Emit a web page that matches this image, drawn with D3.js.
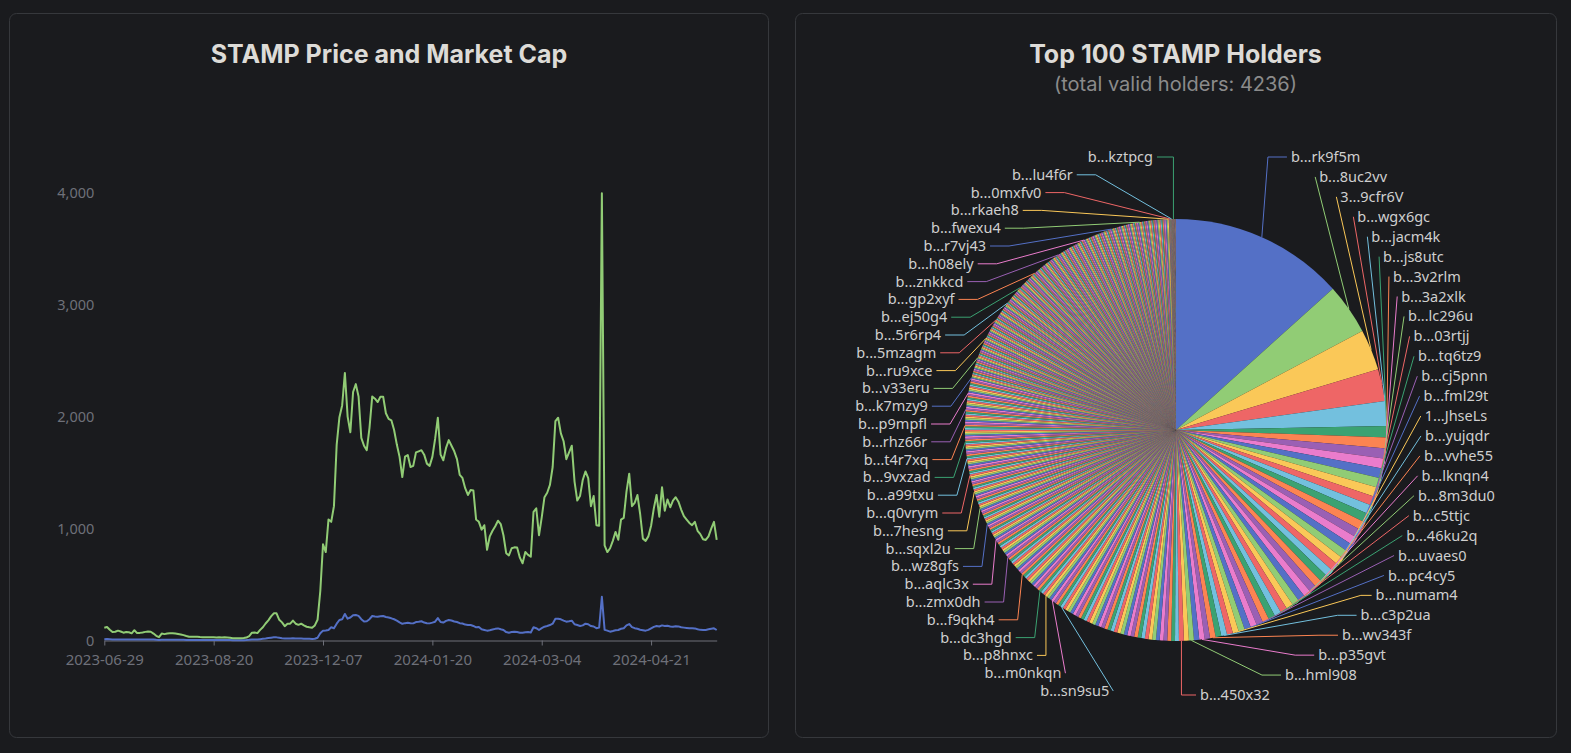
<!DOCTYPE html>
<html><head><meta charset="utf-8">
<script src="https://cdn.jsdelivr.net/npm/d3@7"></script>
<style>
html,body{margin:0;padding:0;background:#1a1b1e;overflow:hidden;}
svg{display:block;}
</style></head>
<body>
<svg id="chart" width="1571" height="753"></svg>
<script>
// ---------------- DATA ----------------
const lineTitle = "STAMP Price and Market Cap";
const pieTitle = "Top 100 STAMP Holders";
const pieSubtitle = "(total valid holders: 4236)";

// x-axis tick labels (category axis, one label every 40 points)
const dateTickLabels = ["2023-06-29","2023-08-20","2023-12-07","2024-01-20","2024-03-04","2024-04-21"];
const dateTickEvery = 40;
const yTickValues = [0,1000,2000,3000,4000];

// series 1 (blue)
const price = [12,13,11,9,10,10,10,9,9,9,
8,10,8,8,8,9,9,9,8,6,
5,7,7,7,7,7,7,7,6,6,
5,5,5,5,5,5,5,4,4,4,
4,4,4,4,4,4,4,3,3,3,
3,3,4,6,9,9,9,12,15,18,
22,25,28,28,24,20,17,18,18,20,
18,17,18,16,15,15,14,16,25,64,
88,90,94,118,109,150,183,189,237,195,
205,225,228,220,190,170,172,190,219,215,
213,216,219,210,205,198,190,178,162,149,
155,159,155,153,165,168,172,160,155,153,
160,168,200,165,160,175,183,178,170,165,
155,152,142,138,138,130,118,121,100,94,
88,92,98,104,108,100,94,75,70,75,
79,75,70,70,74,76,72,118,110,94,
110,123,130,138,150,195,195,189,178,168,
172,177,145,138,130,135,150,145,129,125,
110,115,391,95,88,79,85,92,94,105,
110,135,147,120,110,105,96,92,88,95,
109,122,129,125,135,130,132,125,123,128,
126,118,115,112,109,109,108,100,95,94,
94,100,105,109,94];

// series 2 (green)
const marketCap = [114,120,96,75,78,88,80,70,76,74,
64,92,66,68,72,77,80,78,62,42,
30,62,57,62,64,64,62,58,54,48,
40,34,33,34,33,31,30,28,28,29,
28,27,28,27,28,27,24,20,19,19,
20,22,26,40,70,72,66,95,118,152,
180,215,243,243,185,162,128,150,150,178,
150,140,150,135,123,118,114,135,185,440,
860,790,1080,1060,1200,1750,1995,2100,2390,2000,
1860,2220,2290,2180,1810,1740,1700,1900,2180,2160,
2130,2178,2178,2030,1980,1967,1880,1750,1640,1460,
1642,1657,1550,1560,1680,1690,1700,1660,1580,1560,
1640,1800,1990,1660,1610,1720,1790,1740,1690,1620,
1480,1452,1360,1300,1345,1340,1080,1060,990,1030,
810,930,980,1020,1070,1040,940,780,760,824,
832,830,740,690,790,765,749,1150,1180,940,
1100,1280,1320,1390,1550,1960,1990,1850,1780,1620,
1680,1740,1420,1250,1290,1434,1510,1450,1200,1290,
1030,1025,3995,850,790,824,890,970,900,1080,
1095,1330,1490,1200,1230,1300,1130,910,890,930,
1025,1180,1300,1106,1370,1160,1260,1190,1250,1280,
1240,1170,1110,1080,1050,1030,1060,980,950,905,
898,930,1000,1060,898];

// holder balances (relative units), in pie order
const holderBalances = [
4800,1400,1130,880,680,315,295,285,275,270,265,260,255,250,245,240,235,230,225,225,
220,215,215,210,205,205,200,200,195,195,190,190,185,185,180,175,175,170,165,165,
160,155,155,150,145,145,140,135,135,
107,106,105,104,103,103,102,101,100,99,98,98,97,96,95,94,93,93,92,91,
90,89,89,88,87,86,85,85,84,83,82,81,81,80,79,78,77,77,76,75,
74,73,73,72,71,70,69,69,68,67,67,66,65,65,64,64,63,63,62,62,
61,61,60,60,60,59,59,58,58,58,57,57,57,56,56,56,
50,50,49,49,49,49,49,49,48,48,48,48,48,48,48,48,48,48,48,48,
47,47,47,47,47,47,47,47,47,47,47,47,47,47,47,46,46,46,46,46,
46,46,46,46,46,46,46,46,46,46,46,46,46,46,46,45,45,45,45,45,
45,45,45,45,45,45,45,45,45,45,45,45,45,45,45,44,44,44,44,44,
44,44,44,44,44,44,44,44,44,44,44,44,44,44,44,43,43,43,43,43,
30,30,30,30,30,30,30,30,30,30,30,30,30,30,30,30,30,30,30,30,
30,30,30,30,30,30,30,30,30,30,30,30,30,30,30,30,30,30,30,30,
30,30,30,30,30,30,30,30,30,30,30,30,30,30,30,30,30,30,
29,29,29,29,29,29,29,29,29,29,29,29,29,29,29,29,29,29,29,29,
29,29,29,29,29,29,29,29,29,29,29,29,29,29,29,29,29,29,29,29,
29,29,29,29,29,29,29,29,29,29,29,29,29,29,29,29,29,29,29,29,
29,29,29,29,29,29,29,29,29,29,29,29,29,29,29,29,29,29,29,29,
29,29,29,29,29,29,29,29,29,29,29,29,29,29,29,29,29,29,29,29,
29,29,29,29,29,29,29,29,29,29,29,29,29,29,29,29,29,29,29,29,
29,29,29,29,29,29,29,29,
28,28,28,28,28,28,28,28,28,28,28,28,28,28,28,28,28,28,28,28,
28,28,28,28,28,28,28,28,28,28,28,28,28,28,28,28,28,28,28,28,
28,28,28,28,28,28,28,28,28,28,28,28,28,28,28,28,28,28,28,28,
28,28,28,28,28,28,28,28,28,
6,6,5,5,5,5,5,4,4,4,4,4,4,3,3,3,3,3,3,3,
3,3,3,3,3,3,3,3,2,2,2,2,2,2,2,2,2,2,2,
2,2,2,2,2,2,2,2,2,2,2,2,
1,1,1,1,1,1,1,1,1,1,1,1,1,1,1,1,1,1,1,1,1,1,1,1,1,
1,1,1,1,1,1,1,1,1,1,1,1,1,1,1,1,1,1,1,1
];

// labelled holders (names as displayed) and their position in holderBalances
const holderLabelNames = ["b...rk9f5m","b...8uc2vv","3...9cfr6V","b...wgx6gc","b...jacm4k","b...js8utc","b...3v2rlm",
"b...3a2xlk","b...lc296u","b...03rtjj","b...tq6tz9","b...cj5pnn","b...fml29t","1...JhseLs","b...yujqdr",
"b...vvhe55","b...lknqn4","b...8m3du0","b...c5ttjc","b...46ku2q","b...uvaes0","b...pc4cy5","b...numam4",
"b...c3p2ua","b...wv343f","b...p35gvt","b...hml908","b...450x32",
"b...sn9su5","b...m0nkqn","b...p8hnxc","b...dc3hgd","b...f9qkh4","b...zmx0dh","b...aqlc3x","b...wz8gfs",
"b...sqxl2u","b...7hesng","b...q0vrym","b...a99txu","b...9vxzad","b...t4r7xq","b...rhz66r","b...p9mpfl",
"b...k7mzy9","b...v33eru","b...ru9xce","b...5mzagm","b...5r6rp4","b...ej50g4","b...gp2xyf","b...znkkcd",
"b...h08ely","b...r7vj43","b...fwexu4","b...rkaeh8","b...0mxfv0","b...lu4f6r","b...kztpcg"];
const holderLabelIndex = [0,1,2,3,4,5,6,8,10,12,14,16,18,20,22,24,26,28,30,32,34,36,38,40,42,44,46,48,
85,89,92,95,105,115,125,135,145,155,165,175,185,195,205,215,225,244,263,282,301,320,339,367,395,423,451,479,489,499,518];

const palette = ["#5470c6","#91cc75","#fac858","#ee6666","#73c0de","#3ba272","#fc8452","#9a60b4","#ea7ccc"];

// ---------------- DRAW ----------------
const svg = d3.select("#chart");
const bg = "#1a1b1e";
svg.append("rect").attr("width",1571).attr("height",753).attr("fill",bg);

const panels = [{x:9.5,y:13.5,w:759,h:724},{x:795.5,y:13.5,w:761,h:724}];
svg.selectAll("rect.panel").data(panels).join("rect").attr("class","panel")
  .attr("x",d=>d.x).attr("y",d=>d.y).attr("width",d=>d.w).attr("height",d=>d.h)
  .attr("rx",7).attr("fill",bg).attr("stroke","#36383c").attr("stroke-width",1);

const titleFont = "Inter, Roboto, sans-serif";
const textFont = "'Noto Sans', 'Open Sans', sans-serif";

svg.append("text").attr("x",389).attr("y",63).attr("text-anchor","middle")
  .attr("font-family",titleFont).attr("font-weight",700).attr("font-size",25)
  .attr("fill","#dddbd7").text(lineTitle);

// ---- line chart ----
const n = marketCap.length;
const x = d3.scaleLinear().domain([0, n-1]).range([104.3, 716.7]);
const y = d3.scaleLinear().domain([0, 4000]).range([640.5, 192.7]);

const gy = svg.append("g").attr("transform","translate(104.3,0)")
  .call(d3.axisLeft(y).tickValues(yTickValues).tickFormat(d3.format(",")).tickSize(0).tickPadding(10));
gy.select(".domain").remove();
gy.selectAll("text").attr("font-family",textFont).attr("font-size",14.5).attr("fill","#6e7079");

const tickIdx = dateTickLabels.map((d,i)=>i*dateTickEvery);
const gx = svg.append("g").attr("transform","translate(0,640.5)")
  .call(d3.axisBottom(x).tickValues(tickIdx).tickFormat((d,i)=>dateTickLabels[i]).tickSizeInner(5).tickSizeOuter(0).tickPadding(9));
gx.select(".domain").attr("stroke","#6e7079");
gx.selectAll("line").attr("stroke","#6e7079");
gx.selectAll("text").attr("font-family",textFont).attr("font-size",15).attr("fill","#6e7079");

const line = d3.line().x((d,i)=>x(i)).y(d=>y(d));
svg.append("path").datum(price).attr("d",line).attr("fill","none")
  .attr("stroke",palette[0]).attr("stroke-width",2).attr("stroke-linejoin","round");
svg.append("path").datum(marketCap).attr("d",line).attr("fill","none")
  .attr("stroke",palette[1]).attr("stroke-width",2).attr("stroke-linejoin","round");

// ---- pie chart ----
svg.append("text").attr("x",1175.5).attr("y",63).attr("text-anchor","middle")
  .attr("font-family",titleFont).attr("font-weight",700).attr("font-size",25)
  .attr("fill","#dddbd7").text(pieTitle);
svg.append("text").attr("x",1175.5).attr("y",91).attr("text-anchor","middle")
  .attr("font-family",titleFont).attr("font-size",20)
  .attr("fill","#8b8b8b").text(pieSubtitle);

const pcx = 1176, pcy = 430, pr = 211;
const arcs = d3.pie().sort(null).value(d=>d)(holderBalances);
const arcGen = d3.arc().innerRadius(0).outerRadius(pr);
const gp = svg.append("g").attr("transform",`translate(${pcx},${pcy})`);
gp.selectAll("path").data(arcs).join("path").attr("d",arcGen)
  .attr("fill",(d,i)=>palette[i%palette.length]);

// label layout (outer labels, spread vertically, aligned on an ellipse)
const len1 = 15, len2 = 19, gap = 4, rA = pr + len1;
const bounds = {right:[157,695], left:[157,691]};
const boundDy = 266;
const labels = holderLabelIndex.map((k,j)=>{
  const a = arcs[k], m = (a.startAngle + a.endAngle)/2;
  return {k, name: holderLabelNames[j], m, sx: Math.sin(m), sy: -Math.cos(m), color: palette[k%palette.length]};
});
const mids = arcs.map(a=>(a.startAngle+a.endAngle)/2);

function layoutSide(list, dir, yTop, yBot){
  list.sort((a,b)=> (a.sy) - (b.sy));
  const cnt = list.length;
  list.forEach((d,i)=>{ d.y = yTop + (yBot-yTop)*i/(cnt-1); });
  ["top","bottom"].forEach(semi=>{
    const sub = list.filter(d => semi==="top" ? d.y < pcy : d.y >= pcy);
    if (!sub.length) return;
    const maxDy = Math.max(d3.max(sub, d=>Math.abs(d.y-pcy)), semi==="bottom" && dir<0 ? boundDy : 0);
    let minDx = rA;
    mids.forEach(m=>{
      const sx = Math.sin(m), sy = -Math.cos(m);
      if ((dir>0 ? sx>=0 : sx<0) && (semi==="top" ? sy<0 : sy>=0)) minDx = Math.min(minDx, Math.abs(sx)*rA);
    });
    const rB = minDx < rA ? maxDy/Math.sqrt(1 - minDx*minDx/(rA*rA)) : rA;
    sub.forEach(d=>{
      const dy = Math.abs(d.y-pcy);
      const dx = rA*Math.sqrt(Math.max(0, 1 - dy*dy/(rB*rB)));
      const p0 = [pcx + pr*d.sx, pcy + pr*d.sy];
      const p1 = [pcx + dir*dx, d.y];
      const p2 = [p1[0] + dir*len2, d.y];
      d.pts = [p0,p1,p2];
      d.dir = dir;
      d.tx = p2[0] + dir*gap;
    });
  });
}
function limitTurnAngle(pts, minDeg){
  const minA = minDeg*Math.PI/180;
  const [p0,p1,p2] = pts;
  let a=[p0[0]-p1[0],p0[1]-p1[1]], b=[p2[0]-p1[0],p2[1]-p1[1]];
  const la=Math.hypot(a[0],a[1]), lb=Math.hypot(b[0],b[1]);
  if (la<1e-3||lb<1e-3) return;
  a=[a[0]/la,a[1]/la]; b=[b[0]/lb,b[1]/lb];
  const c=a[0]*b[0]+a[1]*b[1];
  if (Math.cos(minA) < c){
    const t0=(p0[0]-p1[0])*b[0]+(p0[1]-p1[1])*b[1];
    let proj=[p1[0]+b[0]*t0, p1[1]+b[1]*t0];
    const dist=Math.hypot(p0[0]-proj[0],p0[1]-proj[1]);
    const s=dist/Math.tan(Math.PI-minA);
    proj=[proj[0]+b[0]*s, proj[1]+b[1]*s];
    const t = p2[0]!==p1[0] ? (proj[0]-p1[0])/(p2[0]-p1[0]) : (proj[1]-p1[1])/(p2[1]-p1[1]);
    if (isNaN(t)) return;
    if (t<0) proj=[p1[0],p1[1]]; else if (t>1) proj=[p2[0],p2[1]];
    pts[1]=proj;
  }
}
function limitSurfaceAngle(pts, normal, maxDeg){
  const maxA = maxDeg*Math.PI/180;
  const [p0,p1,p2] = pts;
  let d1=[p1[0]-p0[0],p1[1]-p0[1]], d2=[p2[0]-p1[0],p2[1]-p1[1]];
  const l1=Math.hypot(d1[0],d1[1]), l2=Math.hypot(d2[0],d2[1]);
  if (l1<1e-3||l2<1e-3) return;
  d1=[d1[0]/l1,d1[1]/l1]; d2=[d2[0]/l2,d2[1]/l2];
  const c=d1[0]*normal[0]+d1[1]*normal[1];
  if (c < Math.cos(maxA)){
    const t0=(p0[0]-p1[0])*d2[0]+(p0[1]-p1[1])*d2[1];
    let proj=[p1[0]+d2[0]*t0, p1[1]+d2[1]*t0];
    const dist=Math.hypot(p0[0]-proj[0],p0[1]-proj[1]);
    const angle2=Math.acos(Math.max(-1,Math.min(1,d2[0]*normal[0]+d2[1]*normal[1])));
    const newAngle=Math.PI/2+angle2-maxA;
    if (newAngle>=Math.PI/2) proj=[p2[0],p2[1]];
    else {
      const s=dist/Math.tan(Math.PI/2-newAngle);
      proj=[proj[0]+d2[0]*s, proj[1]+d2[1]*s];
      const t = p2[0]!==p1[0] ? (proj[0]-p1[0])/(p2[0]-p1[0]) : (proj[1]-p1[1])/(p2[1]-p1[1]);
      if (isNaN(t)) return;
      if (t<0) proj=[p1[0],p1[1]]; else if (t>1) proj=[p2[0],p2[1]];
    }
    pts[1]=proj;
  }
}

const rightL = labels.filter(d=>d.sx>=0), leftL = labels.filter(d=>d.sx<0);
layoutSide(rightL, 1, bounds.right[0], bounds.right[1]);
layoutSide(leftL, -1, bounds.left[0], bounds.left[1]);
labels.forEach(d=>{
  limitTurnAngle(d.pts, 90);
  limitSurfaceAngle(d.pts, [d.sx,d.sy], 90);
});

svg.append("g").selectAll("polyline").data(labels).join("polyline")
  .attr("points",d=>d.pts.map(p=>p.join(",")).join(" "))
  .attr("fill","none").attr("stroke",d=>d.color).attr("stroke-width",1);
svg.append("g").selectAll("text").data(labels).join("text")
  .attr("x",d=>d.tx).attr("y",d=>d.y).attr("dy","0.35em")
  .attr("text-anchor",d=>d.dir>0?"start":"end")
  .attr("font-family",textFont).attr("font-size",14.5).attr("fill","#cfcfcf")
  .text(d=>d.name);
</script>
</body></html>
